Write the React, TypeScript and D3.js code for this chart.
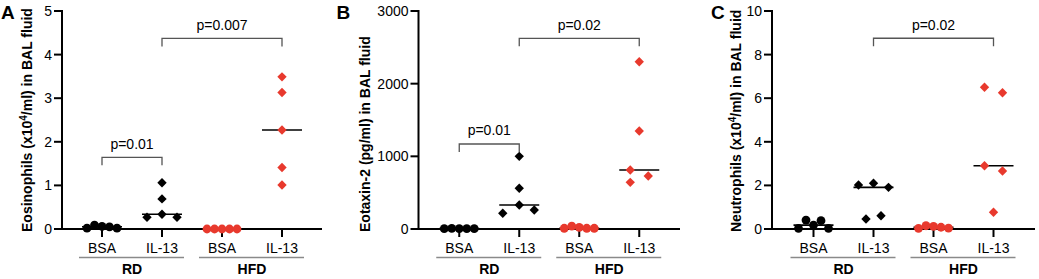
import React from "react";
import * as d3 from "d3";

const categories = ["BSA", "IL-13", "BSA", "IL-13"];
const groups = ["RD", "HFD"];

// Panel A: Eosinophils (x10^4/ml)
const aTicks = [0, 1, 2, 3, 4, 5];
const aRdBsa = [0.02, 0.09, 0.06, 0.05, 0.02];
const aRdIl13 = [0.27, 0.34, 0.27, 0.69, 1.06];
const aHfdBsa = [0.0, 0.0, 0.0, 0.0, 0.0];
const aHfdIl13 = [1.01, 1.41, 2.27, 3.13, 3.49];

// Panel B: Eotaxin-2 (pg/ml)
const bTicks = [0, 1000, 2000, 3000];
const bRdBsa = [5, 8, 6, 5, 4];
const bRdIl13 = [216, 330, 261, 560, 1000];
const bHfdBsa = [10, 40, 23, 10, 10];
const bHfdIl13 = [642, 812, 729, 1349, 2302];

// Panel C: Neutrophils (x10^4/ml)
const cTicks = [0, 2, 4, 6, 8, 10];
const cRdBsa = [0.03, 0.41, 0.18, 0.38, 0.03];
const cRdIl13 = [2.02, 2.1, 1.91, 0.46, 0.61];
const cHfdBsa = [0.03, 0.15, 0.12, 0.08, 0.04];
const cHfdIl13 = [6.5, 6.25, 2.9, 2.66, 0.77];

// horizontal scatter slots (in units of ~7.5px), per point
const bsaSlots = [-2, -1, 0, 1, 2];
const aRdIl13Slots = [-2, 0, 2, 0, 0];
const aHfdIl13Slots = [0, 0, 0, 0, 0];
const bRdIl13Slots = [-2.2, 0, 2, 0, 0];
const bHfdIl13Slots = [-1.2, -1.2, 1.2, 0, 0];
const cRdIl13Slots = [-2, 0, 2, -1, 1];
const cHfdIl13Slots = [-1.2, 1.2, -1.2, 1.2, 0];

// significance brackets: [fromIdx, toIdx, yValue, label]
const aBrackets: [number, number, number, string][] = [
  [0, 1, 1.645, "p=0.01"],
  [1, 3, 4.37, "p=0.007"],
];
const bBrackets: [number, number, number, string][] = [
  [0, 1, 1170, "p=0.01"],
  [1, 3, 2624, "p=0.02"],
];
const cBrackets: [number, number, number, string][] = [[1, 3, 8.75, "p=0.02"]];

const RED = "#e8392d";
const FONT = "'Liberation Sans', Arial, Helvetica, sans-serif";

type PanelProps = {
  letter: string;
  letterX: number;
  x0: number;
  x1: number;
  yMax: number;
  ticks: number[];
  series: number[][];
  slots: number[][];
  brackets: [number, number, number, string][];
  titleMain: string;
  titleSup?: string;
  titleRest?: string;
  titleX: number;
};

const Y0 = 229;
const Y1 = 11;

function Diamond({ cx, cy, r, fill }: { cx: number; cy: number; r: number; fill: string }) {
  return (
    <path
      d={`M${cx},${cy - r}L${cx + r},${cy}L${cx},${cy + r}L${cx - r},${cy}Z`}
      fill={fill}
    />
  );
}

function Panel(p: PanelProps) {
  const y = d3.scaleLinear().domain([0, p.yMax]).range([Y0, Y1]);
  const len = p.x1 - p.x0;
  const x = d3
    .scalePoint<number>()
    .domain([0, 1, 2, 3])
    .range([p.x0, p.x1])
    .padding((len / 60 - 3) / 2);
  const slotW = 7.5;
  const colors = ["#000", "#000", RED, RED];
  const shapes = ["circle", "diamond", "circle", "diamond"];
  return (
    <g fontFamily={FONT}>
      <text x={p.letterX} y={18.5} fontSize={19} fontWeight="bold">
        {p.letter}
      </text>
      {/* y title */}
      <text
        transform={`translate(${p.titleX},232) rotate(-90)`}
        fontSize={14}
        fontWeight="bold"
        textAnchor="start"
      >
        {p.titleMain}
        {p.titleSup ? (
          <tspan fontSize={10} dy={-5}>
            {p.titleSup}
          </tspan>
        ) : null}
        {p.titleRest ? <tspan dy={p.titleSup ? 5 : 0}>{p.titleRest}</tspan> : null}
      </text>
      {/* y axis */}
      <line x1={p.x0} x2={p.x0} y1={Y1 - 1} y2={Y0 + 1} stroke="#000" strokeWidth={2} />
      {p.ticks.map((t) => (
        <g key={t}>
          <line x1={p.x0 - 8} x2={p.x0} y1={y(t)} y2={y(t)} stroke="#000" strokeWidth={2} />
          <text x={p.x0 - 10} y={y(t)} dy="0.36em" fontSize={14} textAnchor="end">
            {t}
          </text>
        </g>
      ))}
      {/* x axis */}
      <line x1={p.x0 - 1} x2={p.x1} y1={Y0} y2={Y0} stroke="#000" strokeWidth={2} />
      {categories.map((c, i) => (
        <g key={i}>
          <line x1={x(i)!} x2={x(i)!} y1={Y0} y2={Y0 + 8} stroke="#000" strokeWidth={2} />
          <text x={x(i)!} y={252.5} fontSize={14} textAnchor="middle">
            {c}
          </text>
        </g>
      ))}
      {groups.map((g, gi) => {
        const cx = (x(gi * 2)! + x(gi * 2 + 1)!) / 2;
        return (
          <g key={g}>
            <line x1={cx - 53} x2={cx + 52} y1={257.5} y2={257.5} stroke="#8a8a8a" strokeWidth={1.3} />
            <text x={cx} y={273.5} fontSize={14} fontWeight="bold" textAnchor="middle">
              {g}
            </text>
          </g>
        );
      })}
      {/* medians */}
      {p.series.map((s, i) => {
        const m = d3.median(s)!;
        return (
          <line
            key={"m" + i}
            x1={x(i)! - 20}
            x2={x(i)! + 20}
            y1={y(m)}
            y2={y(m)}
            stroke="#000"
            strokeWidth={1.6}
          />
        );
      })}
      {/* points */}
      {p.series.map((s, i) =>
        s.map((v, j) => {
          const cx = x(i)! + p.slots[i][j] * slotW;
          const cy = y(v);
          return shapes[i] === "circle" ? (
            <circle key={i + "-" + j} cx={cx} cy={cy} r={4.4} fill={colors[i]} />
          ) : (
            <Diamond key={i + "-" + j} cx={cx} cy={cy} r={4.7} fill={colors[i]} />
          );
        })
      )}
      {/* brackets */}
      {p.brackets.map(([a, b, v, label], k) => {
        const xa = x(a)!;
        const xb = x(b)!;
        const yy = y(v);
        return (
          <g key={"b" + k}>
            <path
              d={`M${xa},${yy + 8}V${yy}H${xb}V${yy + 8}`}
              fill="none"
              stroke="#555"
              strokeWidth={1.3}
            />
            <text x={(xa + xb) / 2} y={yy - 8.5} fontSize={14} textAnchor="middle">
              {label}
            </text>
          </g>
        );
      })}
    </g>
  );
}

export default function App() {
  return (
    <svg
      width={1039}
      height={279}
      style={{ position: "absolute", left: 0, top: 0, background: "#fff" }}
    >
      <Panel
        letter="A"
        letterX={1}
        x0={62}
        x1={322}
        yMax={5}
        ticks={aTicks}
        series={[aRdBsa, aRdIl13, aHfdBsa, aHfdIl13]}
        slots={[bsaSlots, aRdIl13Slots, bsaSlots, aHfdIl13Slots]}
        brackets={aBrackets}
        titleMain="Eosinophils (x10"
        titleSup="4"
        titleRest="/ml) in BAL fluid"
        titleX={32}
      />
      <Panel
        letter="B"
        letterX={336.5}
        x0={418.5}
        x1={680}
        yMax={3000}
        ticks={bTicks}
        series={[bRdBsa, bRdIl13, bHfdBsa, bHfdIl13]}
        slots={[bsaSlots, bRdIl13Slots, bsaSlots, bHfdIl13Slots]}
        brackets={bBrackets}
        titleMain="Eotaxin-2 (pg/ml) in BAL fluid"
        titleX={370}
      />
      <Panel
        letter="C"
        letterX={711}
        x0={772}
        x1={1035}
        yMax={10}
        ticks={cTicks}
        series={[cRdBsa, cRdIl13, cHfdBsa, cHfdIl13]}
        slots={[bsaSlots, cRdIl13Slots, bsaSlots, cHfdIl13Slots]}
        brackets={cBrackets}
        titleMain="Neutrophils (x10"
        titleSup="4"
        titleRest="/ml) in BAL fluid"
        titleX={741}
      />
    </svg>
  );
}
